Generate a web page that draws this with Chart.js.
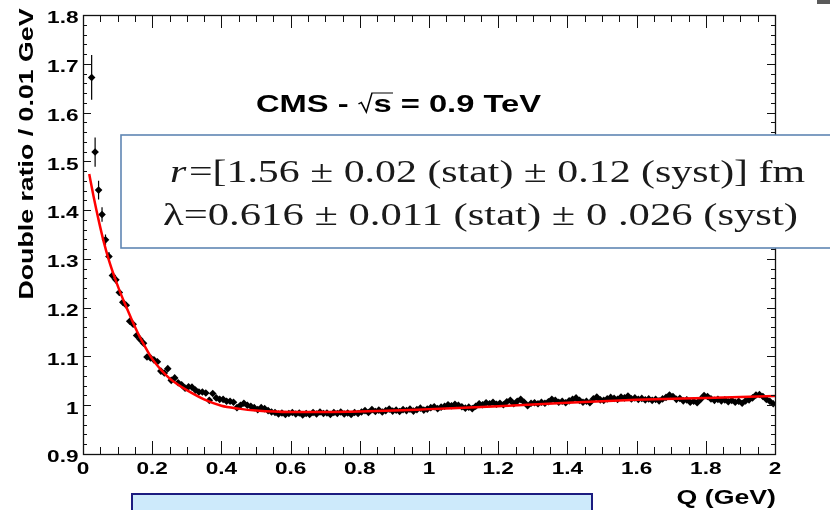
<!DOCTYPE html>
<html>
<head>
<meta charset="utf-8">
<script src="https://cdn.jsdelivr.net/npm/chart.js@4.4.0/dist/chart.umd.min.js"></script>
<style>
html, body { margin: 0; padding: 0; background: #fff; overflow: hidden }
canvas { display: block }
</style>
</head>
<body>
<canvas id="chart" width="830" height="510"></canvas>
<script>
// bins of 0.01 GeV, first drawn bin centred at 0.025
const qFirst = 0.025
const binWidth = 0.01

// double ratio per bin
const ratio = [
  1.672, 1.519, 1.441, 1.391, 1.339, 1.305, 1.266, 1.257, 1.231, 1.211,
  1.205, 1.172, 1.166, 1.143, 1.135, 1.127, 1.099, 1.097, 1.093, 1.089,
  1.070, 1.066, 1.075, 1.051, 1.056, 1.046, 1.042, 1.035, 1.038, 1.037,
  1.031, 1.027, 1.027, 1.025, 1.010, 1.024, 1.015, 1.012, 1.012, 1.008,
  1.008, 1.006, 0.995, 1.000, 1.004, 1.000, 0.998, 0.995, 0.991, 0.995,
  0.993,
  0.989, 0.986, 0.985, 0.982, 0.984, 0.981, 0.983, 0.985, 0.982, 0.984,
  0.980, 0.983, 0.981, 0.985, 0.982, 0.986, 0.983, 0.984, 0.981, 0.985,
  0.983, 0.986, 0.982, 0.984, 0.981, 0.985, 0.983, 0.986, 0.989, 0.985,
  0.991, 0.987, 0.990, 0.986, 0.989, 0.992, 0.988, 0.990, 0.987, 0.991,
  0.989, 0.992, 0.988, 0.991, 0.994, 0.990, 0.992,
  0.995, 0.997, 0.993, 0.996, 0.998, 1.001, 0.999, 1.002, 1.000, 0.997,
  0.994, 0.996, 0.993, 0.998, 1.003, 1.001, 1.005, 1.003, 1.006, 1.002,
  1.004, 1.001, 1.007, 1.010, 1.003, 1.008, 1.012, 1.006, 0.999, 1.004,
  1.005, 1.003, 1.006, 1.004, 1.007, 1.012, 1.010, 1.006, 1.008, 1.005,
  1.009, 1.012, 1.015, 1.010, 1.006, 1.008, 1.005, 1.013, 1.017, 1.011,
  1.010, 1.013, 1.016, 1.014, 1.012, 1.017, 1.015, 1.019, 1.013, 1.015,
  1.012, 1.014, 1.011, 1.013, 1.010, 1.012, 1.009, 1.013, 1.016, 1.021,
  1.018, 1.012, 1.014, 1.009, 1.011, 1.006, 1.008, 1.005, 1.012, 1.020,
  1.018, 1.013, 1.010, 1.012, 1.009, 1.011, 1.007, 1.010, 1.006, 1.008,
  1.004, 1.009, 1.011, 1.015, 1.021, 1.022, 1.018, 1.012, 1.008, 1.003
]
// visible error bars (first bins only, the rest hide under the markers)
const ratioErr = [0.046, 0.030, 0.019, 0.015, 0.011, 0.009, 0.008, 0.007, 0.006, 0.006, 0.005, 0.005]

// fit curve
const fitQ = [0.018, 0.03, 0.045, 0.06, 0.075, 0.09, 0.105, 0.12, 0.14, 0.16, 0.18, 0.2, 0.225, 0.25, 0.275,
  0.3, 0.35, 0.4, 0.45, 0.5, 0.6, 0.7, 0.8, 0.9, 1.0, 1.2, 1.4, 1.6, 1.8, 2.0]
const fitR = [1.474, 1.43, 1.38, 1.335, 1.297, 1.265, 1.236, 1.21, 1.177, 1.146, 1.119, 1.095, 1.073, 1.055, 1.042,
  1.031, 1.012, 0.999, 0.993, 0.989, 0.986, 0.986, 0.987, 0.989, 0.992, 0.998, 1.005, 1.011, 1.015, 1.019]

const xTickValues = [0, 0.2, 0.4, 0.6, 0.8, 1, 1.2, 1.4, 1.6, 1.8, 2]
const xTickLabels = ['0', '0.2', '0.4', '0.6', '0.8', '1', '1.2', '1.4', '1.6', '1.8', '2']
const yTickValues = [0.9, 1, 1.1, 1.2, 1.3, 1.4, 1.5, 1.6, 1.7, 1.8]
const yTickLabels = ['0.9', '1', '1.1', '1.2', '1.3', '1.4', '1.5', '1.6', '1.7', '1.8']

const points = ratio.map((v, i) => ({ x: qFirst + i * binWidth, y: v }))
const fitLine = fitQ.map((q, i) => ({ x: q, y: fitR[i] }))

const SANS = '"Liberation Sans", Arial, sans-serif'
const SERIF = '"Liberation Serif", "DejaVu Serif", serif'
const STRETCH = 1.37   // the root fonts are wider than Arial

function stretchText(ctx, s, x, y, font, sx, align) {
  ctx.save()
  ctx.font = font
  ctx.translate(x, y)
  ctx.scale(sx, 1)
  ctx.textAlign = align
  ctx.textBaseline = 'alphabetic'
  ctx.fillText(s, 0, 0)
  ctx.restore()
}

const errorBars = {
  id: 'errorBars',
  beforeDatasetsDraw(chart) {
    const ctx = chart.ctx, xs = chart.scales.x, ys = chart.scales.y
    ctx.save()
    ctx.strokeStyle = '#000'
    ctx.lineWidth = 1.2
    ctx.beginPath()
    ratioErr.forEach((e, i) => {
      const px = xs.getPixelForValue(points[i].x)
      ctx.moveTo(px, ys.getPixelForValue(points[i].y + e))
      ctx.lineTo(px, ys.getPixelForValue(points[i].y - e))
    })
    ctx.stroke()
    ctx.restore()
  }
}

const rootFrame = {
  id: 'rootFrame',
  afterDraw(chart) {
    const ctx = chart.ctx, xs = chart.scales.x, ys = chart.scales.y, ca = chart.chartArea
    ctx.save()

    // frame + inward ticks
    ctx.strokeStyle = '#111'
    ctx.lineWidth = 1
    ctx.beginPath()
    for (let i = 0; i <= 40; i++) {
      const px = Math.round(xs.getPixelForValue(i * 0.05)) + 0.5
      const len = i % 4 === 0 ? 13 : 7
      ctx.moveTo(px, ca.bottom); ctx.lineTo(px, ca.bottom - len)
      ctx.moveTo(px, ca.top); ctx.lineTo(px, ca.top + len)
    }
    for (let i = 0; i <= 45; i++) {
      const py = Math.round(ys.getPixelForValue(0.9 + i * 0.02)) + 0.5
      const len = i % 5 === 0 ? 8 : 4
      ctx.moveTo(ca.left, py); ctx.lineTo(ca.left + len, py)
      ctx.moveTo(ca.right, py); ctx.lineTo(ca.right - len, py)
    }
    ctx.stroke()
    ctx.lineWidth = 1.3
    ctx.strokeRect(Math.round(ca.left) + 0.5, Math.round(ca.top) + 0.5, Math.round(ca.width), Math.round(ca.height))

    // tick labels
    ctx.fillStyle = '#000'
    const tickFont = 'bold 16.5px ' + SANS
    yTickValues.forEach((v, i) => {
      stretchText(ctx, yTickLabels[i], 78.5, ys.getPixelForValue(v) + 8.3, tickFont, STRETCH, 'right')
    })
    xTickValues.forEach((v, i) => {
      stretchText(ctx, xTickLabels[i], xs.getPixelForValue(v), 474, tickFont, STRETCH, 'center')
    })

    // axis titles
    ctx.save()
    ctx.font = 'bold 19.5px ' + SANS
    ctx.translate(33, 154)
    ctx.rotate(-Math.PI / 2)
    ctx.scale(STRETCH, 1)
    ctx.textAlign = 'center'
    ctx.fillText('Double ratio / 0.01 GeV', 0, 0)
    ctx.restore()
    stretchText(ctx, 'Q (GeV)', 776, 504, 'bold 19.5px ' + SANS, STRETCH, 'right')

    // title with sqrt(s)
    ctx.save()
    const tf = 'bold 23px ' + SANS
    ctx.font = tf
    const a = 'CMS - ', b = 's', c = ' = 0.9 TeV'
    const wa = ctx.measureText(a).width, wb = ctx.measureText(b).width, wc = ctx.measureText(c).width
    const wr = 11
    const sx = 285 / (wa + wr + wb + wc)
    ctx.translate(256, 112)
    ctx.scale(sx, 1)
    ctx.fillText(a, 0, 0)
    ctx.lineWidth = 1.1
    ctx.strokeStyle = '#000'
    ctx.beginPath()
    ctx.moveTo(wa + 0.5, -8)
    ctx.lineTo(wa + 2.5, -9.5)
    ctx.lineTo(wa + 6, 0)
    ctx.lineTo(wa + 10, -19)
    ctx.lineTo(wa + wr + wb + 1, -19)
    ctx.stroke()
    ctx.fillText(b, wa + wr, 0)
    ctx.fillText(c, wa + wr + wb, 0)
    ctx.restore()

    // fit result box
    ctx.fillStyle = '#fff'
    ctx.fillRect(121, 135, 720, 113)
    ctx.strokeStyle = '#5f86b3'
    ctx.lineWidth = 1.6
    ctx.strokeRect(121, 135, 720, 113)
    ctx.fillStyle = '#1a1a1a'
    const sf = '32px ' + SERIF, sfi = 'italic 32px ' + SERIF
    const l1a = 'r', l1b = '=[1.56 \u00b1 0.02 (stat) \u00b1 0.12 (syst)] fm'
    const l2 = '\u03bb=0.616 \u00b1 0.011 (stat) \u00b1 0 .026 (syst)'
    ctx.font = sfi
    const w1a = ctx.measureText(l1a).width + 2
    ctx.font = sf
    const w1b = ctx.measureText(l1b).width
    const w2 = ctx.measureText(l2).width
    const s1 = 635 / (w1a + w1b), s2 = 635 / w2
    ctx.save()
    ctx.translate(170, 182)
    ctx.scale(s1, 1)
    ctx.font = sfi
    ctx.fillText(l1a, 0, 0)
    ctx.font = sf
    ctx.fillText(l1b, w1a, 0)
    ctx.restore()
    stretchText(ctx, l2, 163, 225, sf, s2, 'left')

    // bits of neighbouring panels
    ctx.fillStyle = '#cdeafb'
    ctx.fillRect(132, 494, 460, 30)
    ctx.strokeStyle = '#1c1c80'
    ctx.lineWidth = 2
    ctx.strokeRect(132, 494, 460, 30)
    ctx.fillStyle = '#5a5a5a'
    ctx.fillRect(817, 0, 13, 4)

    ctx.restore()
  }
}

new Chart(document.getElementById('chart'), {
  type: 'scatter',
  data: {
    datasets: [
      {
        label: 'fit',
        data: fitLine,
        showLine: true,
        borderColor: '#ff0000',
        borderWidth: 2.5,
        pointRadius: 0,
        cubicInterpolationMode: 'monotone',
        order: 0
      },
      {
        label: 'data',
        data: points,
        pointStyle: 'rectRot',
        pointRadius: 3.8,
        pointBackgroundColor: '#000',
        pointBorderWidth: 0,
        order: 1
      }
    ]
  },
  options: {
    responsive: false,
    animation: false,
    devicePixelRatio: 1,
    layout: { padding: { left: 83, top: 15, right: 55, bottom: 56 } },
    scales: {
      x: { type: 'linear', min: 0, max: 2, display: false },
      y: { type: 'linear', min: 0.9, max: 1.8, display: false }
    },
    plugins: { legend: { display: false }, tooltip: { enabled: false } }
  },
  plugins: [errorBars, rootFrame]
})
</script>
</body>
</html>
